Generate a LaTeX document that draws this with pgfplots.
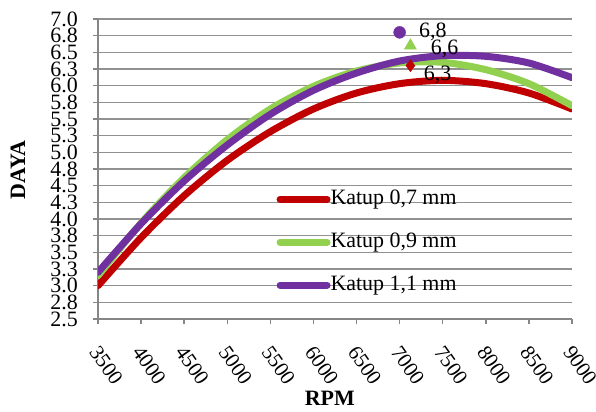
\documentclass[border=0pt]{standalone}
\usepackage{pgfplots}
\pgfplotsset{compat=1.18}
\usepackage{fontspec}
\setmainfont{Liberation Serif}
\definecolor{cred}{RGB}{192,0,0}
\definecolor{cgreen}{RGB}{146,208,80}
\definecolor{cpurple}{RGB}{112,48,160}
\definecolor{cgrid}{RGB}{145,145,145}
\definecolor{caxis}{RGB}{134,134,134}
\begin{document}
\begin{tikzpicture}
\begin{axis}[
  at={(0,0)}, anchor=south west,
  scale only axis, width=474bp, height=300bp,
  xmin=3500, xmax=9000, ymin=2.5, ymax=7,
  axis x line*=bottom, axis y line*=left,
  xtick={3500,4000,4500,5000,5500,6000,6500,7000,7500,8000,8500,9000},
  xticklabels={3500,4000,4500,5000,5500,6000,6500,7000,7500,8000,8500,9000},
  ytick={2.5,2.75,3,3.25,3.5,3.75,4,4.25,4.5,4.75,5,5.25,5.5,5.75,6,6.25,6.5,6.75,7},
  yticklabels={2.5,2.8,3.0,3.3,3.5,3.8,4.0,4.3,4.5,4.8,5.0,5.3,5.5,5.8,6.0,6.3,6.5,6.8,7.0},
  ymajorgrids, grid style={cgrid, line width=1.5bp},
  axis line style={caxis, line width=1.5bp},
  tick style={caxis, line width=1.5bp},
  tick align=outside, major tick length=5bp,
  xticklabel style={xshift=2bp, yshift=-20bp, rotate=-55, anchor=north west, inner sep=0pt, font=\fontsize{21}{21}\selectfont},
  yticklabel style={anchor=east, inner sep=0pt, xshift=-15bp, font=\fontsize{22}{22}\selectfont},
  xlabel={\textbf{RPM}},
  ylabel={\textbf{DAYA}},
  xlabel style={at={(axis description cs:0.489,-0.265)}, anchor=center, font=\fontsize{22}{22}\selectfont},
  ylabel style={at={(axis description cs:-0.169,0.497)}, anchor=center, font=\fontsize{22}{22}\selectfont},
  legend style={at={(axis description cs:0.37,0.44)}, anchor=north west, draw=none, fill=none,
    font=\fontsize{22}{22}\selectfont, row sep=23bp,
    nodes={inner sep=0pt, text height=15bp, text depth=5bp}},
  legend cell align=left,
  legend image code/.code={\draw[#1, line cap=round] (0bp,0bp) -- (47bp,0bp);},
  every axis plot/.append style={line cap=round},
]
% markers with data labels (drawn under the curves)
\addplot[forget plot, only marks, mark=*, mark size=6bp, color=cpurple,
  nodes near coords={6,8}, every node near coord/.append style={anchor=west, xshift=16bp, text=black, font=\fontsize{22}{22}\selectfont}]
  coordinates {(7000,6.8)};
\addplot[forget plot, only marks, mark=triangle*, mark size=7bp, color=cgreen,
  nodes near coords={6,6}, every node near coord/.append style={anchor=west, xshift=17bp, yshift=-3bp, text=black, font=\fontsize{22}{22}\selectfont}]
  coordinates {(7125,6.6)};
\addplot[forget plot, only marks, mark=diamond*, mark size=6bp, color=cred,
  nodes near coords={6,3}, every node near coord/.append style={anchor=west, xshift=10bp, yshift=-9bp, text=black, font=\fontsize{22}{22}\selectfont}]
  coordinates {(7125,6.3)};
% curves
\addplot[color=cred, line width=7bp, smooth, no marks] coordinates {
 (3500,3.00) (4000,3.72) (4500,4.35) (5000,4.88) (5500,5.31) (6000,5.65)
 (6500,5.89) (7000,6.03) (7500,6.08) (8000,6.03) (8500,5.89) (9000,5.65)};
\addlegendentry{Katup 0,7 mm}
\addplot[color=cgreen, line width=7bp, smooth, no marks] coordinates {
 (3500,3.15) (4000,3.94) (4500,4.62) (5000,5.19) (5500,5.65) (6000,5.99)
 (6500,6.22) (7000,6.34) (7500,6.35) (8000,6.24) (8500,6.03) (9000,5.70)};
\addlegendentry{Katup 0,9 mm}
\addplot[color=cpurple, line width=7bp, smooth, no marks] coordinates {
 (3500,3.20) (4000,3.93) (4500,4.57) (5000,5.11) (5500,5.57) (6000,5.93)
 (6500,6.19) (7000,6.37) (7500,6.45) (8000,6.44) (8500,6.34) (9000,6.12)};
\addlegendentry{Katup 1,1 mm}
\end{axis}
\pgfresetboundingbox
\useasboundingbox (-98bp,-93bp) rectangle (498bp,319bp);
\end{tikzpicture}
\end{document}
